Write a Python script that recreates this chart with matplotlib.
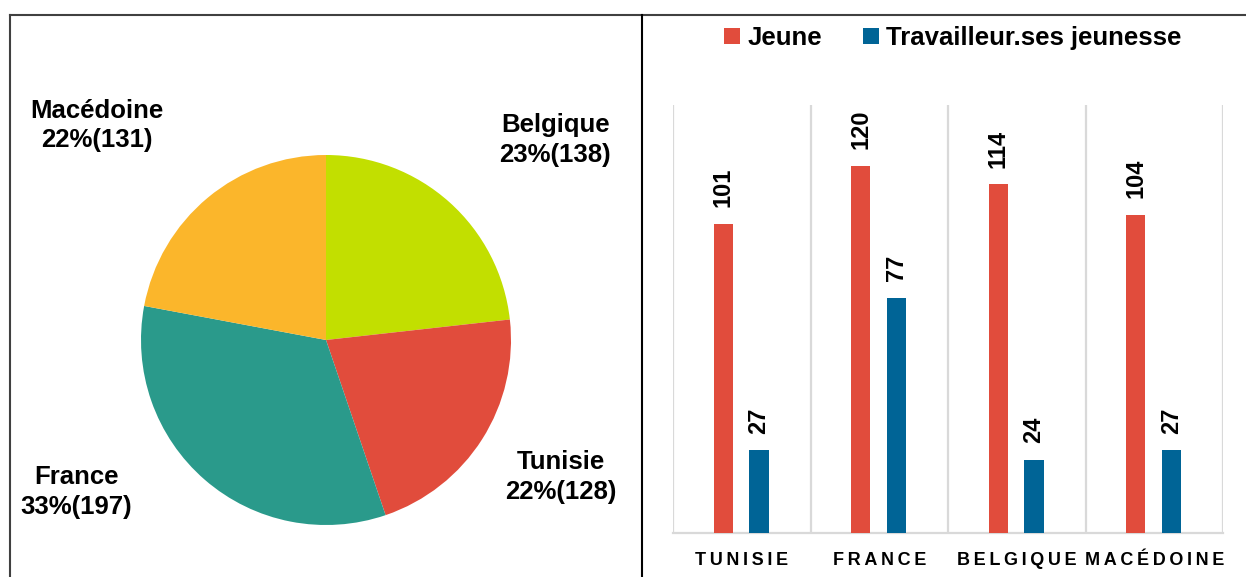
import matplotlib
matplotlib.use('Agg')
import matplotlib.pyplot as plt
from matplotlib.patches import Patch
from matplotlib.lines import Line2D
import numpy as np

plt.rcParams['font.family'] = ['Liberation Sans', 'DejaVu Sans']
plt.rcParams['font.weight'] = 'bold'

# pie data (clockwise from top)
pie_labels = ['Belgique', 'Tunisie', 'France', 'Macédoine']
pie_values = [138, 128, 197, 131]
pie_colors = ['#C2DF00', '#E14C3C', '#2A9A8B', '#FBB62B']
# label positions in pie units (radius = 1)
pie_label_pos = [(1.24, 1.08), (1.27, -0.74), (-1.35, -0.82), (-1.24, 1.16)]

# bar data
countries = ['TUNISIE', 'FRANCE', 'BELGIQUE', 'MACÉDOINE']
jeune = [101, 120, 114, 104]
travailleurs = [27, 77, 24, 27]
series_names = ['Jeune', 'Travailleur.ses jeunesse']
bar_colors = ['#E14C3C', '#006496']

W, H = 1246, 577
fig = plt.figure(figsize=(W / 100, H / 100), dpi=100)

# ---- pie ----
cx, cy, r = 326, 340, 185
axp = fig.add_axes([10 / W, 0, 632 / W, (H - 15) / H])
axp.pie(pie_values, colors=pie_colors, startangle=90, counterclock=False,
        radius=1, center=(0, 0), wedgeprops=dict(linewidth=0))
axp.set_aspect('auto')
axp.set_xlim((10 - cx) / r, (642 - cx) / r)
axp.set_ylim((cy - H) / r, (cy - 15) / r)
axp.axis('off')
total = sum(pie_values)
for lab, v, (px, py) in zip(pie_labels, pie_values, pie_label_pos):
    pct = round(100 * v / total)
    axp.text(px, py, f'{lab}\n{pct}%({v})', ha='center', va='center',
             fontsize=18.5, fontweight='bold', linespacing=1.3)

# ---- bars ----
x0, x1, y0, y1 = 673, 1223, 533, 105
axb = fig.add_axes([x0 / W, (H - y0) / H, (x1 - x0) / W, (y0 - y1) / H])
x = np.arange(len(countries))
bw = 0.14
axb.bar(x - 0.135, jeune, bw, color=bar_colors[0], zorder=3)
axb.bar(x + 0.125, travailleurs, bw, color=bar_colors[1], zorder=3)
for xi, v in zip(x, jeune):
    axb.text(xi - 0.135, v + 5.5, str(v), rotation=90, ha='center', va='bottom',
             fontsize=17, fontweight='bold')
for xi, v in zip(x, travailleurs):
    axb.text(xi + 0.125, v + 5.5, str(v), rotation=90, ha='center', va='bottom',
             fontsize=17, fontweight='bold')
axb.set_xlim(-0.5, len(countries) - 0.5)
axb.set_ylim(0, 140)
axb.vlines(np.arange(len(countries) + 1) - 0.5, 0, 140, color='#D9D9D9', lw=1.6, zorder=1)
for s in ['top', 'left', 'right']:
    axb.spines[s].set_visible(False)
axb.spines['bottom'].set_color('#D9D9D9')
axb.spines['bottom'].set_linewidth(1.6)
axb.set_yticks([])
spaced = ['\u2009'.join(c) for c in countries]
axb.set_xticks(x, spaced, fontsize=13, fontweight='bold')
axb.tick_params(axis='x', length=0, pad=14)

handles = [Patch(facecolor=c, edgecolor='none', label=n) for c, n in zip(bar_colors, series_names)]
fig.legend(handles=handles, loc='center', bbox_to_anchor=(953 / W, 1 - 38 / H), ncol=2,
           frameon=False, prop=dict(weight='bold', size=18.5),
           handlelength=0.6, handleheight=0.6, handletextpad=0.3, columnspacing=1.6)

# ---- frame lines ----
fig.add_artist(Line2D([10 / W, 1], [1 - 15 / H, 1 - 15 / H], color='#404040', lw=1.5))
fig.add_artist(Line2D([10 / W, 10 / W], [0, 1 - 15 / H], color='#404040', lw=1.5))
fig.add_artist(Line2D([642 / W, 642 / W], [0, 1 - 15 / H], color='black', lw=1.5))

fig.savefig('out.png', dpi=100)
